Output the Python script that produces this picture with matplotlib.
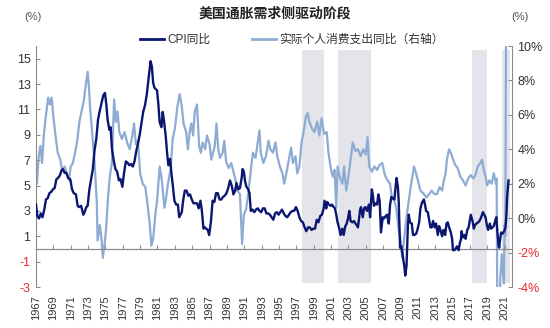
import matplotlib
matplotlib.use("Agg")
import matplotlib.pyplot as plt
from matplotlib.lines import Line2D

plt.rcParams['font.family'] = ['Liberation Sans', 'Noto Sans CJK SC', 'DejaVu Sans']
plt.rcParams['axes.unicode_minus'] = False

title = "美国通胀需求侧驱动阶段"
cpi_label = "CPI同比"
pce_label = "实际个人消费支出同比（右轴）"

# CPI year-over-year (%), left axis
cpi_t = [1967.00, 1967.15, 1967.35, 1967.55, 1967.75, 1967.95, 1968.15, 1968.35, 1968.55, 1968.75,
         1968.95, 1969.15, 1969.35, 1969.55, 1969.75, 1969.95, 1970.1, 1970.3, 1970.5, 1970.7,
         1970.95, 1971.15, 1971.35, 1971.6, 1971.8, 1971.95, 1972.2, 1972.45, 1972.6, 1972.8,
         1972.95, 1973.15, 1973.35, 1973.55, 1973.75, 1973.95, 1974.15, 1974.35, 1974.55, 1974.75,
         1974.95, 1975.1, 1975.25, 1975.45, 1975.6, 1975.75, 1975.95, 1976.15, 1976.35, 1976.55,
         1976.75, 1976.95, 1977.15, 1977.35, 1977.55, 1977.75, 1977.95, 1978.15, 1978.35, 1978.55,
         1978.75, 1978.95, 1979.15, 1979.35, 1979.55, 1979.75, 1979.95, 1980.1, 1980.2, 1980.35,
         1980.5, 1980.65, 1980.8, 1980.95, 1981.1, 1981.25, 1981.45, 1981.6, 1981.75, 1981.95,
         1982.1, 1982.25, 1982.45, 1982.6, 1982.75, 1982.95, 1983.15, 1983.35, 1983.5, 1983.65,
         1983.8, 1983.95, 1984.15, 1984.35, 1984.55, 1984.75, 1984.95, 1985.15, 1985.35, 1985.55,
         1985.75, 1985.95, 1986.1, 1986.3, 1986.45, 1986.6, 1986.8, 1986.95, 1987.15, 1987.35,
         1987.55, 1987.75, 1987.95, 1988.15, 1988.35, 1988.55, 1988.75, 1988.95, 1989.15, 1989.35,
         1989.55, 1989.75, 1989.95, 1990.1, 1990.3, 1990.5, 1990.7, 1990.8, 1990.95, 1991.1,
         1991.25, 1991.45, 1991.6, 1991.75, 1991.95, 1992.15, 1992.35, 1992.55, 1992.75, 1992.95,
         1993.15, 1993.35, 1993.55, 1993.75, 1993.95, 1994.15, 1994.35, 1994.55, 1994.75, 1994.95,
         1995.15, 1995.35, 1995.55, 1995.75, 1995.95, 1996.15, 1996.35, 1996.55, 1996.75, 1996.95,
         1997.15, 1997.35, 1997.55, 1997.75, 1997.95, 1998.15, 1998.35, 1998.55, 1998.75, 1998.95,
         1999.15, 1999.35, 1999.55, 1999.75, 1999.95, 2000.15, 2000.25, 2000.45, 2000.55, 2000.75,
         2000.95, 2001.1, 2001.3, 2001.45, 2001.6, 2001.75, 2001.95, 2002.1, 2002.3, 2002.45,
         2002.65, 2002.8, 2002.95, 2003.1, 2003.25, 2003.45, 2003.65, 2003.8, 2003.95, 2004.1,
         2004.35, 2004.45, 2004.65, 2004.8, 2004.95, 2005.15, 2005.35, 2005.5, 2005.6, 2005.7,
         2005.8, 2005.95, 2006.1, 2006.3, 2006.45, 2006.6, 2006.75, 2006.95, 2007.1, 2007.3,
         2007.45, 2007.65, 2007.8, 2007.95, 2008.1, 2008.3, 2008.45, 2008.55, 2008.7, 2008.8,
         2008.9, 2008.95, 2009.1, 2009.3, 2009.45, 2009.55, 2009.7, 2009.85, 2009.95, 2010.1,
         2010.3, 2010.45, 2010.6, 2010.8, 2010.95, 2011.15, 2011.3, 2011.45, 2011.6, 2011.7,
         2011.85, 2011.95, 2012.15, 2012.3, 2012.45, 2012.6, 2012.75, 2012.95, 2013.1, 2013.3,
         2013.45, 2013.6, 2013.8, 2013.95, 2014.15, 2014.3, 2014.45, 2014.6, 2014.8, 2014.95,
         2015.05, 2015.2, 2015.35, 2015.5, 2015.7, 2015.85, 2015.95, 2016.05, 2016.15, 2016.35,
         2016.5, 2016.7, 2016.85, 2016.95, 2017.1, 2017.3, 2017.45, 2017.6, 2017.75, 2017.95,
         2018.1, 2018.3, 2018.5, 2018.65, 2018.8, 2018.95, 2019.1, 2019.3, 2019.45, 2019.6,
         2019.75, 2019.95, 2020.05, 2020.15, 2020.3, 2020.38, 2020.45, 2020.6, 2020.75, 2020.95,
         2021.1, 2021.2, 2021.3, 2021.4, 2021.45]
cpi_v = [3.5, 2.6, 2.4, 2.8, 2.5, 3.1, 3.9, 4.0, 4.4, 4.5,
         4.7, 4.8, 5.5, 5.6, 5.8, 6.2, 6.3, 6.0, 6.0, 5.6,
         5.5, 4.7, 4.4, 4.3, 3.4, 3.3, 3.4, 2.7, 2.9, 3.3,
         3.4, 4.7, 5.5, 6.3, 7.8, 8.7, 10.2, 10.9, 11.5, 12.1,
         12.3, 11.4, 10.2, 9.4, 9.6, 7.9, 7.0, 6.3, 6.1, 5.4,
         5.5, 4.9, 6.0, 6.9, 6.8, 6.6, 6.7, 6.5, 6.9, 7.7,
         8.3, 9.0, 9.9, 10.8, 11.3, 12.1, 13.3, 14.2, 14.8, 14.4,
         13.1, 12.7, 12.6, 12.5, 11.4, 10.0, 9.6, 10.8, 10.1, 8.9,
         7.6, 6.6, 7.1, 6.0, 5.1, 3.8, 3.5, 3.5, 2.5, 2.7,
         2.9, 3.8, 4.6, 4.6, 4.2, 4.3, 3.9, 3.6, 3.6, 3.6,
         3.2, 3.8, 3.1, 1.6, 1.7, 1.6, 1.5, 1.1, 2.1, 3.8,
         3.7, 4.4, 4.4, 3.9, 3.9, 4.1, 4.2, 4.4, 4.8, 5.4,
         5.0, 4.3, 4.6, 5.2, 4.7, 4.8, 5.6, 6.3, 6.1, 5.3,
         4.9, 4.7, 4.4, 3.0, 3.1, 2.9, 3.1, 3.2, 3.0, 2.9,
         3.2, 3.2, 2.8, 2.8, 2.7, 2.5, 2.3, 2.8, 2.9, 2.7,
         2.9, 3.1, 2.8, 2.6, 2.5, 2.7, 2.9, 3.0, 3.0, 3.3,
         3.0, 2.5, 2.2, 2.1, 1.7, 1.4, 1.7, 1.7, 1.5, 1.6,
         1.6, 2.3, 2.1, 2.6, 2.7, 3.2, 3.8, 3.2, 3.7, 3.5,
         3.4, 3.5, 3.3, 3.2, 2.7, 2.1, 1.6, 1.1, 1.6, 1.1,
         1.8, 2.0, 2.4, 3.0, 2.2, 2.1, 2.2, 2.0, 1.9, 1.7,
         3.1, 3.3, 2.5, 3.2, 3.3, 3.0, 3.5, 2.5, 3.6, 4.7,
         4.3, 3.4, 3.6, 3.5, 4.3, 3.8, 1.3, 2.5, 2.4, 2.6,
         2.7, 2.0, 3.5, 4.1, 4.0, 3.9, 5.0, 5.6, 4.9, 3.7,
         1.1, 0.1, 0.2, -0.7, -1.4, -2.1, -1.3, 1.8, 2.7, 2.1,
         2.0, 1.1, 1.1, 1.2, 1.5, 2.1, 3.2, 3.6, 3.8, 3.9,
         3.4, 3.0, 2.9, 2.3, 1.7, 1.7, 2.2, 1.7, 2.0, 1.1,
         1.8, 1.5, 1.0, 1.5, 1.1, 2.0, 2.1, 1.7, 1.3, 0.8,
         -0.1, -0.1, 0.0, 0.2, -0.1, 0.5, 0.7, 1.4, 0.9, 1.1,
         0.8, 1.5, 1.7, 2.1, 2.7, 2.2, 1.6, 1.9, 2.0, 2.1,
         2.2, 2.5, 2.9, 2.7, 2.5, 1.9, 1.5, 2.0, 1.6, 1.7,
         1.8, 2.3, 2.5, 1.5, 0.3, 0.1, 0.6, 1.3, 1.2, 1.4,
         1.7, 2.6, 4.2, 5.0, 5.4]

# Real personal consumption expenditure year-over-year (%), right axis
pce_t = [1967.0, 1967.1, 1967.3, 1967.5, 1967.7, 1967.9, 1968.1, 1968.4, 1968.6, 1968.8,
         1969.0, 1969.2, 1969.5, 1969.8, 1970.0, 1970.3, 1970.6, 1970.8, 1971.0, 1971.25,
         1971.5, 1971.75, 1972.0, 1972.25, 1972.5, 1972.75, 1972.95, 1973.1, 1973.25, 1973.5,
         1973.75, 1974.0, 1974.1, 1974.35, 1974.55, 1974.7, 1974.9, 1975.05, 1975.3, 1975.5,
         1975.75, 1976.0, 1976.2, 1976.4, 1976.6, 1976.9, 1977.2, 1977.5, 1977.8, 1978.1,
         1978.3, 1978.5, 1978.75, 1979.0, 1979.3, 1979.6, 1979.8, 1980.1, 1980.3, 1980.5,
         1980.75, 1980.95, 1981.25, 1981.5, 1981.8, 1982.0, 1982.2, 1982.5, 1982.75, 1983.0,
         1983.3, 1983.55, 1983.8, 1984.0, 1984.3, 1984.5, 1984.7, 1984.9, 1985.1, 1985.3,
         1985.55, 1985.8, 1986.0, 1986.2, 1986.5, 1986.7, 1987.0, 1987.2, 1987.4, 1987.6,
         1987.8, 1988.0, 1988.2, 1988.5, 1988.7, 1988.9, 1989.2, 1989.5, 1989.8, 1990.0,
         1990.2, 1990.5, 1990.75, 1990.95, 1991.2, 1991.5, 1991.8, 1992.0, 1992.3, 1992.5,
         1992.75, 1992.9, 1993.2, 1993.5, 1993.8, 1994.0, 1994.3, 1994.6, 1994.8, 1995.1,
         1995.4, 1995.6, 1995.85, 1996.1, 1996.4, 1996.6, 1996.9, 1997.1, 1997.35, 1997.6,
         1997.9, 1998.1, 1998.3, 1998.5, 1998.8, 1999.1, 1999.4, 1999.65, 1999.9, 2000.2,
         2000.5, 2000.7, 2001.0, 2001.2, 2001.4, 2001.6, 2001.75, 2002.0, 2002.3, 2002.5,
         2002.75, 2003.0, 2003.2, 2003.5, 2003.8, 2004.1, 2004.4, 2004.7, 2005.0, 2005.2,
         2005.4, 2005.7, 2006.0, 2006.3, 2006.6, 2006.9, 2007.2, 2007.5, 2007.8, 2008.0,
         2008.3, 2008.5, 2008.8, 2009.0, 2009.2, 2009.4, 2009.6, 2009.75, 2010.0, 2010.2,
         2010.55, 2010.8, 2011.0, 2011.3, 2011.7, 2012.0, 2012.3, 2012.6, 2012.9, 2013.2,
         2013.5, 2013.8, 2014.0, 2014.2, 2014.35, 2014.6, 2014.8, 2015.0, 2015.3, 2015.6,
         2015.9, 2016.2, 2016.5, 2016.8, 2017.1, 2017.4, 2017.7, 2017.9, 2018.2, 2018.4,
         2018.6, 2018.85, 2019.0, 2019.25, 2019.5, 2019.75, 2020.0, 2020.08, 2020.17, 2020.25,
         2020.33, 2020.42, 2020.5, 2020.58, 2020.67, 2020.75, 2020.83, 2020.92, 2021.0, 2021.08,
         2021.17, 2021.25, 2021.33, 2021.42]
pce_v = [3.0, 2.0, 3.5, 4.2, 3.2, 4.8, 5.8, 7.0, 6.6, 7.0,
         5.9, 5.0, 3.8, 3.4, 2.8, 3.0, 2.5, 2.2, 3.0, 3.2,
         3.8, 4.5, 5.6, 6.2, 6.8, 7.8, 8.5, 7.6, 6.3, 4.8,
         3.2, 1.0, -1.3, -0.4, -1.2, -2.3, -1.5, -0.8, 1.2, 2.4,
         3.2, 6.9, 5.6, 6.2, 5.0, 4.6, 5.0, 4.4, 4.0, 4.8,
         5.5, 4.3, 4.5, 2.6, 2.0, 1.8, 1.0, -0.3, -1.6, -1.2,
         0.2, 1.0, 3.0, 2.2, 0.6, 1.2, 2.0, 2.8, 4.6, 5.2,
         6.5, 7.2, 6.5, 5.5, 5.0, 4.0, 5.0, 5.5, 4.8, 6.2,
         6.6, 4.2, 3.8, 4.4, 4.0, 4.8, 4.3, 3.4, 3.8, 4.2,
         5.5, 4.0, 3.5, 3.8, 4.5, 3.3, 2.9, 3.2, 2.6, 2.2,
         1.6, 1.4, -1.5, 0.2, 0.5, 1.6, 3.0, 3.8, 3.5, 4.2,
         5.1, 3.8, 3.2, 3.6, 4.5, 4.0, 3.8, 4.4, 3.6, 3.0,
         2.6, 2.0, 2.6, 3.3, 4.1, 3.2, 3.6, 2.6, 3.0, 4.4,
         5.2, 5.9, 6.1, 5.6, 5.2, 5.0, 5.6, 4.8, 5.8, 4.9,
         5.0, 3.8, 2.8, 2.4, 2.8, 0.6, 3.0, 2.4, 2.0, 3.0,
         1.6, 2.4, 3.2, 4.4, 3.9, 4.0, 3.6, 4.0, 3.7, 4.7,
         3.0, 2.7, 3.0, 2.8, 3.1, 3.2, 2.5, 2.2, 2.0, 1.2,
         1.0, 0.6, -0.7, -1.2, -2.3, -1.3, -0.4, 0.3, 1.2, 1.9,
         3.0, 2.6, 2.2, 1.6, 1.4, 1.2, 1.4, 1.6, 1.4, 1.4,
         1.8, 1.6, 2.2, 2.6, 3.4, 4.0, 3.8, 3.5, 3.1, 2.9,
         2.4, 2.2, 1.9, 2.3, 2.5, 2.3, 2.6, 3.0, 3.2, 3.4,
         2.8, 2.3, 1.9, 2.2, 2.0, 2.6, 2.0, 2.3, -6.5, -16.0,
         -9.5, -5.0, -3.5, -3.0, -2.1, -2.4, -3.2, -3.8, -0.4, -1.0,
         10.8, 26.0, 16.0, 12.0]

# Shaded demand-driven phases (start, end)
phase_start = [1997.6, 2001.8, 2017.2, 2020.7]
phase_end = [2000.2, 2005.6, 2019.0, 2021.6]

x_ticks = list(range(1967, 2022, 2))
left_ticks = [-3, -1, 1, 3, 5, 7, 9, 11, 13, 15]
right_ticks = [-4, -2, 0, 2, 4, 6, 8, 10]

navy = '#0b1670'
lightblue = '#8eabd4'
shade = '#e3e5ea'
grey = '#8c8c8c'
txt = '#333333'
red = '#e8262b'

fig = plt.figure(figsize=(5.5, 3.28), dpi=100)
ax = fig.add_axes([36 / 550, 1 - 287 / 328, (512 - 36) / 550, (287 - 46) / 328])
ax2 = ax.twinx()
ax.set_zorder(ax2.get_zorder() + 1)
ax.patch.set_visible(False)

for s, e in zip(phase_start, phase_end):
    ax2.axvspan(s, e, ymin=0.017, ymax=0.983, color=shade, lw=0, zorder=0)

ax2.plot(pce_t, pce_v, color=lightblue, lw=1.6, zorder=2)
ax.plot(cpi_t, cpi_v, color=navy, lw=1.7, zorder=3)

ax.set_xlim(1967, 2021.85)
ax.set_ylim(-3, 16)
ax2.set_ylim(-4, 10)

ax.set_yticks(left_ticks)
ax.set_yticklabels([str(v) for v in left_ticks])
ax2.set_yticks(right_ticks)
ax2.set_yticklabels([f"{v}%" for v in right_ticks])
for lab, v in zip(ax.get_yticklabels(), left_ticks):
    lab.set_color(red if v < 0 else txt)
for lab, v in zip(ax2.get_yticklabels(), right_ticks):
    lab.set_color(red if v < 0 else txt)

ax.tick_params(axis='y', direction='in', length=3, width=0.8, color=grey, labelsize=9, pad=4)
ax2.tick_params(axis='y', direction='in', length=3, width=0.8, color=grey, labelsize=9, pad=4)

ax.set_xticks(x_ticks)
ax.set_xticklabels([str(y) for y in x_ticks], rotation=90, fontsize=8, color=txt)
ax.tick_params(axis='x', length=0, pad=6)

# zero line with year ticks
zero_frac = (0 - (-3)) / (16 - (-3))
sec = ax.secondary_xaxis(zero_frac)
sec.set_xticks(x_ticks)
sec.tick_params(axis='x', direction='in', length=3, width=0.8, color=grey, labelbottom=False)
sec.spines['bottom'].set_color(grey)
sec.spines['bottom'].set_linewidth(0.9)

for a in (ax, ax2):
    a.spines['top'].set_visible(False)
    a.spines['bottom'].set_visible(False)
    a.spines['left'].set_color(grey)
    a.spines['right'].set_color(grey)
    a.spines['left'].set_linewidth(0.8)
    a.spines['right'].set_linewidth(0.8)
ax.spines['right'].set_visible(False)
ax2.spines['left'].set_visible(False)

fig.text(0.5, 1 - 14 / 328, title, ha='center', va='center', fontsize=10, fontweight='bold', color='#222222')
fig.text(33 / 550, 1 - 17 / 328, "(%)", ha='center', va='center', fontsize=8, color='#555555')
fig.text(520 / 550, 1 - 17 / 328, "(%)", ha='center', va='center', fontsize=8, color='#555555')

handles = [Line2D([], [], color=navy, lw=2), Line2D([], [], color=lightblue, lw=2)]
fig.legend(handles, [cpi_label, pce_label], loc='center', bbox_to_anchor=(292 / 550, 1 - 40 / 328),
           ncol=2, frameon=False, fontsize=8.5, handlelength=2.0, handletextpad=0.3,
           columnspacing=3.5, labelcolor=txt)

fig.savefig('out.png', dpi=100)
